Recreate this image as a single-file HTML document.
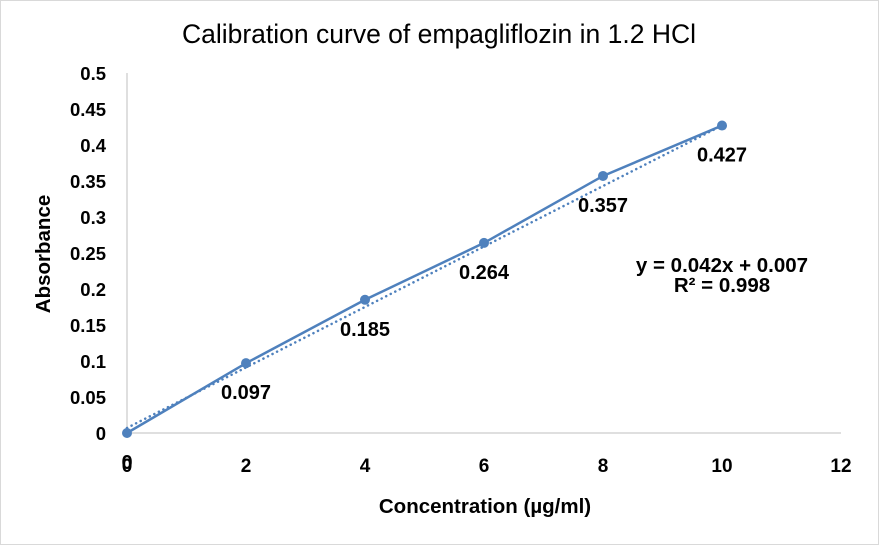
<!DOCTYPE html>
<html><head><meta charset="utf-8"><style>
body{margin:0;background:#fff}
svg{display:block;font-family:"Liberation Sans",Arial,sans-serif}
</style></head><body>
<svg id="chart" width="879" height="545">
<rect x="0.5" y="0.5" width="878" height="544" fill="#fff" stroke="#d9d9d9"/>
<text x="439" y="43" text-anchor="middle" font-size="26.5" fill="#000">Calibration curve of empagliflozin in 1.2 HCl</text>
<text x="485" y="513" text-anchor="middle" font-size="20.5" font-weight="bold">Concentration (µg/ml)</text>
<text transform="translate(50,254) rotate(-90)" text-anchor="middle" font-size="20.5" font-weight="bold">Absorbance</text>
<text x="722" y="272" text-anchor="middle" font-size="20.5" font-weight="bold">y = 0.042x + 0.007</text>
<text x="722" y="292" text-anchor="middle" font-size="20.5" font-weight="bold">R² = 0.998</text>
<g id="plot"></g>
</svg>
<script>
const xVals=[0,2,4,6,8,10];
const yVals=[0,0.097,0.185,0.264,0.357,0.427];
const labels=["0","0.097","0.185","0.264","0.357","0.427"];
const xTicks=[0,2,4,6,8,10,12];
const yTicks=[0,0.05,0.1,0.15,0.2,0.25,0.3,0.35,0.4,0.45,0.5];
const slope=0.042, intercept=0.007;
const ns="http://www.w3.org/2000/svg";
const X=v=>127+v*(841-127)/12;
const Y=v=>433-v*720;
const g=document.getElementById('plot');
function mk(t,a){const e=document.createElementNS(ns,t);for(const k in a)e.setAttribute(k,a[k]);g.appendChild(e);return e;}
let e=mk('line',{x1:X(0),y1:Y(0),x2:X(12),y2:Y(0),stroke:'#bfbfbf'});


e=mk('line',{x1:X(0),y1:Y(0),x2:X(0),y2:Y(0.5),stroke:'#bfbfbf'});


xTicks.forEach(t=>{const el=mk('text',{x:X(t),y:472,'text-anchor':'middle','font-size':19,'font-weight':'bold'});el.textContent=t;

});
yTicks.forEach(t=>{const el=mk('text',{x:106,y:Y(t)+7,'text-anchor':'end','font-size':18.5,'font-weight':'bold'});el.textContent=String(t);

});
e=mk('line',{x1:X(0),y1:Y(intercept),x2:X(10),y2:Y(slope*10+intercept),stroke:'#4f81bd','stroke-width':2.5,'stroke-dasharray':'0.1 5','stroke-linecap':'round'});


e=mk('polyline',{points:xVals.map((x,i)=>X(x)+','+Y(yVals[i])).join(' '),fill:'none',stroke:'#4f81bd','stroke-width':2.5});


xVals.forEach((x,i)=>{const c=mk('circle',{cx:X(x),cy:Y(yVals[i]),r:5,fill:'#4f81bd'});


const t=mk('text',{x:X(x),y:Y(yVals[i])+36,'text-anchor':'middle','font-size':20,'font-weight':'bold'});t.textContent=labels[i];

});
</script>
</body></html>
